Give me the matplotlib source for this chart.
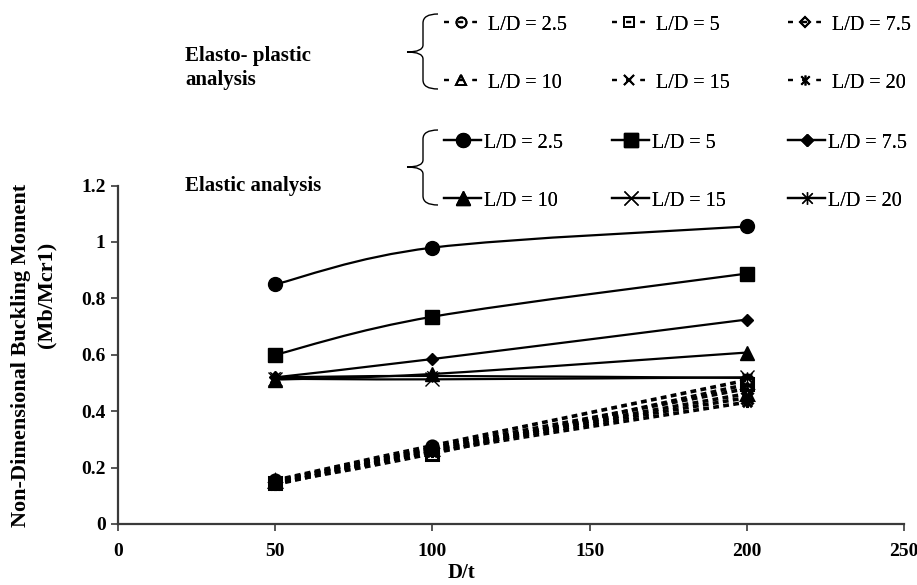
import numpy as np
import matplotlib
matplotlib.use("Agg")
import matplotlib.pyplot as plt
from matplotlib.path import Path
from matplotlib.patches import PathPatch
from matplotlib.lines import Line2D
from matplotlib import transforms

plt.rcParams['font.family'] = ['Liberation Serif', 'DejaVu Serif']

# ---- data -------------------------------------------------------------
d_over_t = [50, 100, 200]
slenderness = ["2.5", "5", "7.5", "10", "15", "20"]

# Elastic analysis
elastic_25 = [0.85, 0.98, 1.055]
elastic_5 = [0.60, 0.735, 0.888]
elastic_75 = [0.52, 0.585, 0.725]
elastic_10 = [0.512, 0.532, 0.608]
elastic_15 = [0.515, 0.513, 0.520]
elastic_20 = [0.520, 0.525, 0.518]

# Elasto-plastic analysis
plastic_25 = [0.155, 0.278, 0.510]
plastic_5 = [0.145, 0.250, 0.495]
plastic_75 = [0.150, 0.270, 0.480]
plastic_10 = [0.152, 0.265, 0.462]
plastic_15 = [0.146, 0.260, 0.448]
plastic_20 = [0.140, 0.255, 0.432]

elastic = [elastic_25, elastic_5, elastic_75, elastic_10, elastic_15, elastic_20]
plastic = [plastic_25, plastic_5, plastic_75, plastic_10, plastic_15, plastic_20]

x_ticks = [0, 50, 100, 150, 200, 250]
y_ticks = [0, 0.2, 0.4, 0.6, 0.8, 1.0, 1.2]
y_tick_labels = ["0", "0.2", "0.4", "0.6", "0.8", "1", "1.2"]

# ---- styles -----------------------------------------------------------
asterisk = Path([(-1, -1), (1, 1), (-1, 1), (1, -1), (0, -1.2), (0, 1.2)],
                [Path.MOVETO, Path.LINETO, Path.MOVETO, Path.LINETO,
                 Path.MOVETO, Path.LINETO])
markers = ['o', 's', 'D', '^', 'x', asterisk]
el_ms = [10, 10, 6.5, 10, 10, 9]
pl_ms = [8, 8, 6, 8.5, 8, 8]
W, H = 917, 585

fig = plt.figure(figsize=(W / 100, H / 100), dpi=100)
ax = fig.add_axes([118 / W, (H - 524) / H, (904 - 118) / W, (524 - 185.6) / H])
ax.set_xlim(0, 250)
ax.set_ylim(0, 1.2)


def smooth_path(xs, ys):
    """Excel-style smoothed curve through the points (cubic Bezier)."""
    pts = np.column_stack([xs, ys]).astype(float)
    # work in display-proportional units so smoothing is isotropic
    sx, sy = 1 / 250.0, 1 / 1.2 * (524 - 185.6) / (904 - 118)
    p = pts * [sx, sy]
    verts = [p[0]]
    codes = [Path.MOVETO]
    n = len(p)
    for i in range(n - 1):
        p0 = p[i - 1] if i > 0 else p[i]
        p3 = p[i + 2] if i + 2 < n else p[i + 1]
        c1 = p[i] + (p[i + 1] - p0) / 6.0
        c2 = p[i + 1] - (p3 - p[i]) / 6.0
        verts += [c1, c2, p[i + 1]]
        codes += [Path.CURVE4] * 3
    verts = np.array(verts) / [sx, sy]
    return Path(verts, codes)


el_handles, pl_handles = [], []
for k in range(6):
    # elastic: solid smoothed line, filled markers
    ax.add_patch(PathPatch(smooth_path(d_over_t, elastic[k]), fill=False,
                           edgecolor='black', lw=1.6, zorder=3))
    ax.plot(d_over_t, elastic[k], ls='none', marker=markers[k], ms=el_ms[k],
            color='black', mfc='black', mec='black', mew=1.0, zorder=4)
    el_handles.append(Line2D([], [], color='black', lw=1.6, marker=markers[k],
                             ms=el_ms[k], mfc='black', mec='black', mew=1.0))

for k in range(6):
    # elasto-plastic: dashed smoothed line, open markers
    ax.add_patch(PathPatch(smooth_path(d_over_t, plastic[k]), fill=False,
                           edgecolor='black', lw=2.6, linestyle=(0, (1.6, 1.2)),
                           capstyle='butt', zorder=3))
    ax.plot(d_over_t, plastic[k], ls='none', marker=markers[k], ms=pl_ms[k],
            color='black', mfc='none', mec='black', mew=2.2, zorder=4)
    pl_handles.append(Line2D([], [], color='black', lw=1.6, ls=(0, (2.2, 4.2)),
                             marker=markers[k], ms=pl_ms[k] * 0.9,
                             mfc='none', mec='black', mew=1.4))

# ---- axes styling -----------------------------------------------------
for s in ['top', 'right']:
    ax.spines[s].set_visible(False)
for s in ['left', 'bottom']:
    ax.spines[s].set_color('#3a3a3a')
    ax.spines[s].set_linewidth(1.6)
ax.set_xticks(x_ticks)
ax.set_yticks(y_ticks)
ax.set_yticklabels(y_tick_labels)
ax.tick_params(direction='out', length=5, width=1.2, color='#3a3a3a',
               labelsize=14, pad=4)
for lab in ax.get_xticklabels() + ax.get_yticklabels():
    lab.set_fontweight('bold')
ax.tick_params(axis='x', pad=9)

# pixel coordinates (origin top-left) -> figure fraction
pix = transforms.Affine2D().scale(1 / W, -1 / H).translate(0, 1) + fig.transFigure

fig.text(461, 573, "D/t", transform=pix, ha='center', va='center',
         fontsize=15, fontweight='bold')
fig.text(21, 355, "Non-Dimensional Buckling Moment", transform=pix,
         ha='center', va='center', rotation=90, fontsize=16, fontweight='bold')
fig.text(46, 295, "(Mb/Mcr1)", transform=pix, ha='center', va='center',
         rotation=90, fontsize=16, fontweight='bold')

fig.text(185, 68, "Elasto- plastic\nanalysis", transform=pix, ha='left',
         va='center', fontsize=15, fontweight='bold', linespacing=1.3)
fig.text(185, 186, "Elastic analysis", transform=pix, ha='left',
         va='center', fontsize=15, fontweight='bold')


def brace(top, mid, bottom, x_tip=407, x_bar=423, x_arm=438):
    v = [(x_arm, top), (x_bar, top), (x_bar, top + 9),
         (x_bar, mid - 7), (x_bar, mid), (x_tip, mid),
         (x_bar, mid), (x_bar, mid + 7),
         (x_bar, bottom - 9), (x_bar, bottom), (x_arm, bottom)]
    c = [Path.MOVETO, Path.CURVE3, Path.CURVE3,
         Path.LINETO, Path.CURVE3, Path.CURVE3,
         Path.CURVE3, Path.CURVE3,
         Path.LINETO, Path.CURVE3, Path.CURVE3]
    fig.add_artist(PathPatch(Path(v, c), fill=False, lw=1.0,
                             edgecolor='black', transform=pix))


brace(14, 52, 89)
brace(130, 167, 205)

# legend entries placed individually in a 2x3 grid
col_x = [444, 612, 788]
row_y_pl = [25, 83]
row_y_el = [143, 201]


def place_entry(handle, label, x, y, hlen, textpad):
    leg = fig.legend(handles=[handle], labels=[label], loc='center left',
                     bbox_to_anchor=(x, y), bbox_transform=pix, frameon=False,
                     borderpad=0, borderaxespad=0, handlelength=hlen,
                     handletextpad=textpad, fontsize=14.5)
    fig.add_artist(leg)


for k in range(6):
    r, c = divmod(k, 3)
    place_entry(pl_handles[k], "L/D = " + slenderness[k], col_x[c],
                row_y_pl[r], 1.65, 0.55)
    place_entry(el_handles[k], "L/D = " + slenderness[k], col_x[c],
                row_y_el[r], 1.85, 0.12)

fig.savefig("out.png", dpi=100)
